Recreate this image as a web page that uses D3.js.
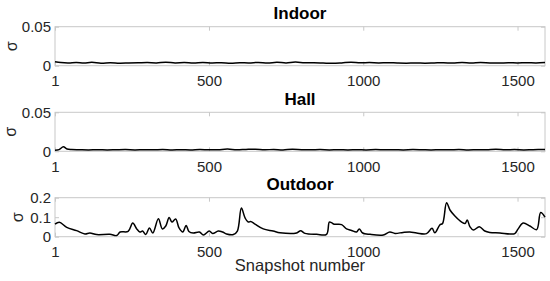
<!DOCTYPE html>
<html>
<head>
<meta charset="utf-8">
<script src="https://cdn.jsdelivr.net/npm/d3@7"></script>
<style>
  body { margin: 0; background: #fff; }
  svg { display: block; font-family: "Liberation Sans", Arial, Helvetica, sans-serif; }
  .axis path, .axis line { stroke: #c8c8c8; }
  .axis text { fill: #262626; font-size: 15px; }
</style>
</head>
<body>
<div id="chart"></div>
<script>
var titles = ["Indoor", "Hall", "Outdoor"];
var xTicks = [1, 500, 1000, 1500];
var yTicksSmall = [0, 0.05];
var yTicksOutdoor = [0, 0.1, 0.2];

var indoorN = [1, 20, 45, 70, 95, 120, 150, 180, 210, 240, 270, 300, 330, 360, 390,
  420, 450, 480, 510, 540, 570, 600, 630, 660, 690, 720, 750, 780, 810, 840,
  870, 900, 930, 960, 990, 1020, 1050, 1080, 1110, 1140, 1170, 1200, 1230, 1260, 1290,
  1320, 1350, 1380, 1410, 1440, 1470, 1500, 1530, 1560, 1589];
var indoorV = [0.0050, 0.0040, 0.0036, 0.0042, 0.0034, 0.0044, 0.0032, 0.0038, 0.0033, 0.0035,
  0.0037, 0.0040, 0.0036, 0.0045, 0.0036, 0.0040, 0.0034, 0.0041, 0.0035, 0.0039,
  0.0033, 0.0038, 0.0036, 0.0042, 0.0035, 0.0043, 0.0036, 0.0046, 0.0037, 0.0038,
  0.0034, 0.0030, 0.0036, 0.0045, 0.0037, 0.0040, 0.0036, 0.0039, 0.0035, 0.0033,
  0.0036, 0.0032, 0.0035, 0.0038, 0.0034, 0.0040, 0.0035, 0.0041, 0.0036, 0.0034,
  0.0038, 0.0035, 0.0039, 0.0036, 0.0042];

var hallN = [1, 14, 28, 40, 55, 80, 110, 140, 170, 200, 230, 260, 290, 320, 350,
  380, 410, 440, 470, 500, 530, 560, 590, 620, 650, 680, 710, 740, 770, 800,
  830, 860, 890, 920, 950, 980, 1010, 1040, 1070, 1100, 1130, 1160, 1190, 1220, 1250,
  1280, 1310, 1340, 1370, 1400, 1430, 1460, 1490, 1520, 1550, 1589];
var hallV = [0.0015, 0.0022, 0.0058, 0.0030, 0.0022, 0.0020, 0.0018, 0.0021, 0.0017, 0.0020,
  0.0022, 0.0018, 0.0021, 0.0019, 0.0023, 0.0018, 0.0021, 0.0017, 0.0022, 0.0019,
  0.0021, 0.0028, 0.0019, 0.0024, 0.0027, 0.0020, 0.0023, 0.0018, 0.0026, 0.0021,
  0.0019, 0.0022, 0.0018, 0.0021, 0.0017, 0.0020, 0.0018, 0.0022, 0.0019, 0.0021,
  0.0018, 0.0022, 0.0020, 0.0017, 0.0021, 0.0019, 0.0023, 0.0018, 0.0021, 0.0020,
  0.0026, 0.0019, 0.0022, 0.0018, 0.0021, 0.0023];

var outdoorN = [1, 15, 39, 71, 98, 114, 136, 179, 201, 212, 238, 253, 266, 276, 285,
  295, 307, 318, 336, 349, 360, 371, 380, 392, 403, 415, 426, 435, 449, 469,
  482, 501, 512, 530, 544, 557, 579, 592, 605, 617, 627, 635, 649, 676, 708,
  730, 784, 797, 811, 849, 881, 890, 897, 906, 930, 946, 962, 978, 987, 998,
  1022, 1065, 1086, 1103, 1129, 1151, 1173, 1205, 1223, 1232, 1248, 1257, 1270, 1281, 1297,
  1319, 1330, 1337, 1346, 1357, 1376, 1394, 1410, 1443, 1475, 1491, 1502, 1518, 1540, 1562,
  1575, 1589];
var outdoorV = [0.064, 0.074, 0.048, 0.031, 0.014, 0.019, 0.011, 0.012, 0.006, 0.024,
  0.027, 0.070, 0.040, 0.024, 0.029, 0.011, 0.045, 0.019, 0.092, 0.040,
  0.055, 0.098, 0.075, 0.091, 0.045, 0.024, 0.057, 0.027, 0.019, 0.024,
  0.009, 0.029, 0.016, 0.029, 0.024, 0.014, 0.011, 0.029, 0.147, 0.096,
  0.075, 0.078, 0.065, 0.040, 0.029, 0.020, 0.019, 0.031, 0.017, 0.012,
  0.012, 0.075, 0.072, 0.064, 0.062, 0.040, 0.032, 0.024, 0.040, 0.019,
  0.012, 0.009, 0.024, 0.017, 0.022, 0.024, 0.019, 0.016, 0.043, 0.020,
  0.060, 0.068, 0.174, 0.137, 0.106, 0.075, 0.068, 0.086, 0.050, 0.034,
  0.051, 0.029, 0.022, 0.019, 0.014, 0.016, 0.040, 0.070, 0.055, 0.036,
  0.124, 0.100];

var width = 550, height = 281;
var left = 55, right = 545, ph = 39;
var tops = [26.7, 112.3, 197.7];

var panels = [
  { title: titles[0], n: indoorN, v: indoorV, yMax: 0.05, ticks: yTicksSmall },
  { title: titles[1], n: hallN, v: hallV, yMax: 0.05, ticks: yTicksSmall },
  { title: titles[2], n: outdoorN, v: outdoorV, yMax: 0.2, ticks: yTicksOutdoor }
];
var labelX = [12.5, 11.5, 18];

var svg = d3.select("#chart").append("svg")
    .attr("width", width)
    .attr("height", height);

var x = d3.scaleLinear().domain([1, 1589]).range([left, right]);

panels.forEach(function(p, i) {
    var top = tops[i];
    var y = d3.scaleLinear().domain([0, p.yMax]).range([top + ph, top]);
    var g = svg.append("g");

    g.append("rect")
        .attr("x", left).attr("y", top)
        .attr("width", right - left).attr("height", ph)
        .attr("fill", "#fff")
        .attr("stroke", "#c8c8c8");

    g.append("g").attr("class", "axis")
        .attr("transform", "translate(0," + (top + ph) + ")")
        .call(d3.axisBottom(x).tickValues(xTicks).tickSize(-4).tickSizeOuter(0)
            .tickPadding(10).tickFormat(d3.format("d")))
        .call(s => s.select(".domain").remove());
    g.append("g").attr("class", "axis")
        .attr("transform", "translate(0," + top + ")")
        .call(d3.axisTop(x).tickValues(xTicks).tickSize(-4).tickSizeOuter(0).tickFormat(""))
        .call(s => s.select(".domain").remove());
    g.append("g").attr("class", "axis")
        .attr("transform", "translate(" + left + ",0)")
        .call(d3.axisLeft(y).tickValues(p.ticks).tickSize(-4).tickSizeOuter(0)
            .tickPadding(4).tickFormat(d3.format("")))
        .call(s => s.select(".domain").remove());
    g.append("g").attr("class", "axis")
        .attr("transform", "translate(" + right + ",0)")
        .call(d3.axisRight(y).tickValues(p.ticks).tickSize(-4).tickSizeOuter(0).tickFormat(""))
        .call(s => s.select(".domain").remove());

    var line = d3.line()
        .x((d, k) => x(p.n[k]))
        .y(d => y(d))
        .curve(d3.curveCatmullRom.alpha(0.5));

    g.append("path")
        .datum(p.v)
        .attr("d", line)
        .attr("fill", "none")
        .attr("stroke", "#000")
        .attr("stroke-width", 1.5)
        .attr("stroke-linejoin", "round");

    g.append("text")
        .attr("x", (left + right) / 2)
        .attr("y", top - 7.5)
        .attr("text-anchor", "middle")
        .attr("font-size", "17px")
        .attr("font-weight", "bold")
        .attr("fill", "#000")
        .text(p.title);

    g.append("text")
        .attr("transform", "translate(" + labelX[i] + "," + (top + ph / 2) + ") rotate(-90)")
        .attr("text-anchor", "middle")
        .attr("dy", "0.3em")
        .attr("font-size", "16px")
        .attr("fill", "#262626")
        .text("σ");
});

svg.append("text")
    .attr("x", (left + right) / 2)
    .attr("y", 271)
    .attr("text-anchor", "middle")
    .attr("font-size", "16.5px")
    .attr("fill", "#262626")
    .text("Snapshot number");
</script>
</body>
</html>
